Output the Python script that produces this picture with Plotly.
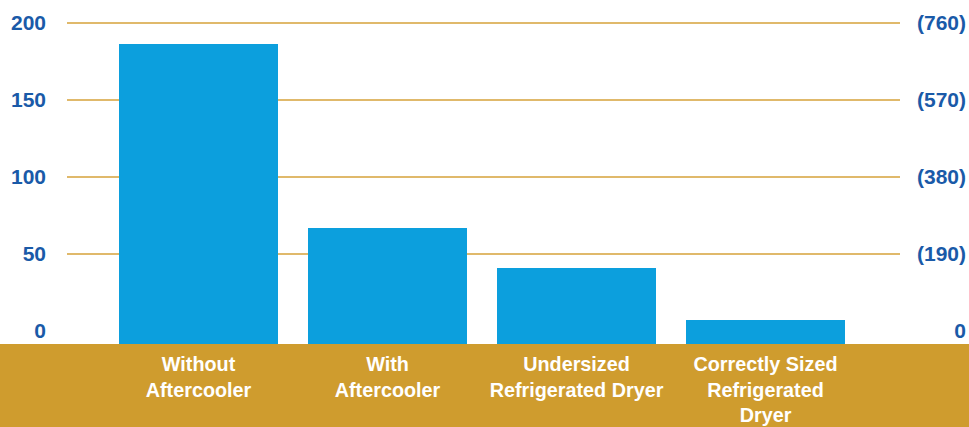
import plotly.graph_objects as go

categories = ["Without<br>Aftercooler", "With<br>Aftercooler",
              "Undersized<br>Refrigerated Dryer",
              "Correctly Sized<br>Refrigerated<br>Dryer"]
values = [186.3, 66.6, 40.7, 7.0]
left_ticks = [0, 50, 100, 150, 200]
right_ticks = [0, 190, 380, 570, 760]
right_ticktext = ["0", "(190)", "(380)", "(570)", "(760)"]
grid_values = [50, 100, 150, 200]

Y_MIN, Y_MAX = -8.45, 214.9
RATIO = 3.8
BLUE_TXT = "#1a5aa8"
GOLD = "#cf9c2e"
GRID = "#d6a23a"
BAR = "#0c9fdd"

x_idx = list(range(len(categories)))

fig = go.Figure()
fig.add_trace(go.Bar(
    x=x_idx, y=[v - Y_MIN for v in values], base=Y_MIN,
    width=0.842, marker=dict(color=BAR, line=dict(width=0)),
    hoverinfo="skip", showlegend=False,
))
# invisible trace to activate right axis
fig.add_trace(go.Scatter(x=[0], y=[0], yaxis="y2", mode="markers",
                         marker=dict(opacity=0), showlegend=False,
                         hoverinfo="skip"))

shapes = [dict(type="rect", xref="paper", yref="paper",
               x0=-0.1, x1=1.01, y0=0, y1=-0.6,
               fillcolor=GOLD, line=dict(width=0), layer="below")]
for g in grid_values:
    shapes.append(dict(type="line", xref="paper", yref="y",
                       x0=0, x1=(900 - 67) / 902, y0=g, y1=g,
                       line=dict(color=GRID, width=1.6), layer="below"))

font_bold = "Liberation Sans, Arial, sans-serif"

fig.update_layout(
    width=969, height=427,
    margin=dict(l=67, r=0, t=0, b=83),
    paper_bgcolor="white", plot_bgcolor="rgba(0,0,0,0)",
    bargap=0,
    shapes=shapes,
    xaxis=dict(
        range=[(67 - 198.5) / 189, (969 - 198.5) / 189],
        tickvals=x_idx, ticktext=categories,
        showgrid=False, zeroline=False, showline=False, ticks="",
        ticklabelstandoff=6, automargin=False,
        tickfont=dict(family=font_bold, size=19.8, color="white", weight="bold"),
        fixedrange=True,
    ),
    yaxis=dict(
        range=[Y_MIN, Y_MAX], tickvals=left_ticks,
        showgrid=False, zeroline=False, showline=False, ticks="",
        ticklabelstandoff=20, automargin=False,
        tickfont=dict(family=font_bold, size=21, color=BLUE_TXT, weight="bold"),
    ),
    yaxis2=dict(
        overlaying="y", side="right",
        range=[Y_MIN * RATIO, Y_MAX * RATIO],
        tickvals=right_ticks, ticktext=right_ticktext,
        ticklabelposition="inside", automargin=False,
        showgrid=False, zeroline=False, showline=False, ticks="",
        tickfont=dict(family=font_bold, size=21, color=BLUE_TXT, weight="bold"),
    ),
)

fig.write_html("out.html",
               config={"displayModeBar": False, "staticPlot": True},
               post_script="document.body.style.margin='0';document.body.style.overflow='hidden';")
